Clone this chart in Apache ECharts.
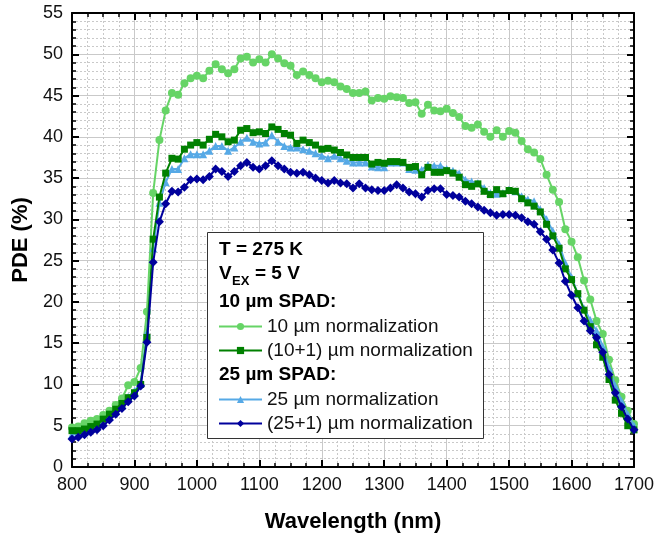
<!DOCTYPE html>
<html>
<head>
<meta charset="utf-8">
<script src="https://cdn.jsdelivr.net/npm/echarts@6/dist/echarts.min.js"></script>
<style>
html,body{margin:0;padding:0;background:#fff;}
#chart{width:669px;height:538px;}
</style>
</head>
<body>
<div id="chart"></div>
<script>
// Wavelength categories (nm), 800..1700 every 10 nm
var wavelengths = [800,810,820,830,840,850,860,870,880,890,900,910,920,930,940,950,960,970,980,990,
1000,1010,1020,1030,1040,1050,1060,1070,1080,1090,1100,1110,1120,1130,1140,1150,1160,1170,1180,1190,
1200,1210,1220,1230,1240,1250,1260,1270,1280,1290,1300,1310,1320,1330,1340,1350,1360,1370,1380,1390,
1400,1410,1420,1430,1440,1450,1460,1470,1480,1490,1500,1510,1520,1530,1540,1550,1560,1570,1580,1590,
1600,1610,1620,1630,1640,1650,1660,1670,1680,1690,1700];

// 10 um SPAD, 10 um normalization
var pde10 = [4.8,4.9,5.3,5.6,5.8,6.3,6.8,7.5,8.3,9.9,10.3,12.0,18.8,33.2,39.6,43.2,45.3,45.1,46.5,47.1,
47.4,47.1,48.0,48.8,48.2,47.7,48.2,49.5,49.7,49.0,49.4,49.0,50.0,49.5,48.9,48.6,47.5,47.9,47.5,47.1,
46.6,46.8,46.6,46.1,45.8,45.3,45.3,45.5,44.4,44.7,44.6,44.9,44.8,44.7,44.1,44.2,42.8,43.9,43.2,43.1,
43.4,42.9,42.4,41.3,41.1,41.5,40.6,40.0,40.8,40.0,40.7,40.5,39.5,38.5,38.1,37.3,35.4,33.6,32.1,28.8,
27.3,25.4,22.6,20.3,17.7,16.1,13.0,10.5,8.5,6.8,5.2];

// 10 um SPAD, (10+1) um normalization
var pde10p1 = [4.4,4.4,4.6,4.9,5.2,5.8,6.4,7.0,7.7,8.4,9.0,10.0,15.7,27.6,32.7,35.6,37.4,37.3,38.5,39.0,
39.3,39.0,39.7,40.3,40.0,39.4,39.6,40.8,41.0,40.5,40.6,40.4,41.2,40.9,40.4,40.2,39.2,39.6,39.3,39.0,
38.5,38.6,38.4,38.1,37.8,37.5,37.5,37.5,36.7,36.9,36.8,37.0,37.0,36.9,36.3,36.4,35.4,36.3,35.7,35.7,
35.9,35.6,35.1,34.2,34.0,34.3,33.4,33.0,33.6,33.1,33.5,33.4,32.5,32.0,31.6,30.9,29.4,28.0,26.5,24.0,
22.7,21.0,19.0,17.0,14.8,13.3,10.6,8.1,6.5,5.0,4.5];

// 25 um SPAD, 25 um normalization
var pde25 = [3.9,4.1,4.3,4.6,5.0,5.5,6.1,6.9,7.6,8.5,9.2,10.3,16.3,26.5,32.0,34.5,36.1,36.1,37.4,37.9,
37.9,37.9,38.3,38.9,38.9,38.3,38.7,39.4,39.9,39.4,39.2,39.3,40.2,39.4,38.9,38.7,38.7,38.5,38.3,38.0,
37.7,37.4,37.7,37.4,37.1,36.9,36.9,36.9,36.4,36.3,36.3,36.9,36.9,36.9,36.1,36.0,36.0,36.6,36.5,36.5,
36.1,35.9,35.6,34.8,34.6,34.4,33.8,33.2,33.1,33.2,33.6,33.4,32.8,32.4,32.2,31.2,30.0,28.6,27.0,24.7,
23.0,21.0,19.2,17.8,16.5,14.6,12.0,9.8,8.0,6.4,5.0];

// 25 um SPAD, (25+1) um normalization
var pde25p1 = [3.4,3.6,3.9,4.2,4.5,5.0,5.7,6.4,7.1,7.9,8.6,9.8,15.1,24.8,29.7,31.9,33.4,33.3,33.9,34.8,
34.9,34.8,35.2,36.1,35.8,35.2,35.8,36.5,36.9,36.3,36.1,36.5,37.1,36.5,36.1,35.7,35.6,35.7,35.4,35.0,
34.7,34.4,34.7,34.4,34.3,33.8,34.3,33.8,33.6,33.5,33.5,33.8,34.2,33.8,33.3,33.1,32.7,33.5,33.7,33.7,
33.0,32.9,32.7,32.2,31.9,31.5,31.1,30.8,30.5,30.6,30.6,30.5,30.2,29.7,29.4,28.5,27.6,26.3,24.7,22.5,
20.8,19.3,17.7,16.5,15.7,13.9,11.2,9.0,7.3,5.8,4.5];

var seriesNames = ['10 \u00b5m normalization','(10+1) \u00b5m normalization','25 \u00b5m normalization','(25+1) \u00b5m normalization'];
var xTicks = {min:800, max:1700, step:100};
var yTicks = {min:0, max:55, step:5};

function pairs(vals){ return wavelengths.map(function(w,i){ return [w, vals[i]]; }); }

var FONT = '"Liberation Sans", Arial, Helvetica, sans-serif';
var gridColor = '#c9c9c9';

function mkX(pos, main){
  return {
    type:'value', position:pos, min:xTicks.min, max:xTicks.max, interval:xTicks.step,
    axisLine:{show:true, onZero:false, lineStyle:{color:'#000', width:2}},
    axisTick:{show:true, inside:true, length:7, lineStyle:{color:'#000', width:2}},
    minorTick:{show:true, splitNumber:4, length:4, lineStyle:{color:'#000', width:1.5}},
    axisLabel:{show:main, color:'#111', fontSize:18, fontFamily:FONT, margin:9,
               formatter:function(v){ return String(v); }},
    splitLine:{show:main, lineStyle:{color:gridColor, width:1}},
    minorSplitLine:{show:main, lineStyle:{color:gridColor, width:1, type:[2,2]}},
    name: main ? 'Wavelength (nm)' : '', nameLocation:'middle', nameGap:44,
    nameTextStyle:{fontSize:22, fontWeight:'bold', fontFamily:FONT, color:'#000'}
  };
}
function mkY(pos, main){
  return {
    type:'value', position:pos, min:yTicks.min, max:yTicks.max, interval:yTicks.step,
    axisLine:{show:true, onZero:false, lineStyle:{color:'#000', width:2}},
    axisTick:{show:true, inside:true, length:7, lineStyle:{color:'#000', width:2}},
    minorTick:{show:true, splitNumber:5, length:4, lineStyle:{color:'#000', width:1.5}},
    axisLabel:{show:main, color:'#111', fontSize:18, fontFamily:FONT, margin:9},
    splitLine:{show:main, lineStyle:{color:gridColor, width:1}},
    minorSplitLine:{show:main, lineStyle:{color:gridColor, width:1, type:[2,2]}},
    name: main ? 'PDE (%)' : '', nameLocation:'middle', nameGap:32, nameRotate:90,
    nameTextStyle:{fontSize:22, fontWeight:'bold', fontFamily:FONT, color:'#000'}
  };
}

var colors = ['#66d466','#008000','#56a9e6','#00009c'];
function mkSeries(name, vals, color, symbol, size, z){
  return {
    name:name, type:'line', data:pairs(vals), xAxisIndex:0, yAxisIndex:0,
    symbol:symbol, symbolSize:size, showSymbol:true, z:z,
    lineStyle:{color:color, width:2}, itemStyle:{color:color},
    emphasis:{disabled:true}, animation:false
  };
}

var legendText = {fontSize:19, fontFamily:FONT, color:'#111'};
var option = {
  animation:false,
  backgroundColor:'#fff',
  grid:{left:72, right:35, top:13, bottom:70, containLabel:false},
  xAxis:[mkX('bottom', true), mkX('top', false)],
  yAxis:[mkY('left', true), mkY('right', false)],
  legend:[
    {data:[seriesNames[0], seriesNames[1]], orient:'vertical', left:218, top:317, itemWidth:43, itemHeight:9,
     itemGap:5, padding:0, selectedMode:false, textStyle:legendText, z:20},
    {data:[seriesNames[2], seriesNames[3]], orient:'vertical', left:218, top:390, itemWidth:43, itemHeight:9,
     itemGap:5, padding:0, selectedMode:false, textStyle:legendText, z:20}
  ],
  graphic:[
    {type:'rect', left:207, top:232, z:10, shape:{width:276, height:206},
     style:{fill:'#fff', stroke:'#333', lineWidth:1}},
    {type:'text', left:219, top:240, z:30, style:{text:'T = 275 K', font:'bold 19px '+FONT, fill:'#000'}},
    {type:'text', left:219, top:264, z:30, style:{text:'V', font:'bold 19px '+FONT, fill:'#000'}},
    {type:'text', left:232, top:275, z:30, style:{text:'EX', font:'bold 13px '+FONT, fill:'#000'}},
    {type:'text', left:255, top:264, z:30, style:{text:'= 5 V', font:'bold 19px '+FONT, fill:'#000'}},
    {type:'text', left:219, top:292, z:30, style:{text:'10 \u00b5m SPAD:', font:'bold 19px '+FONT, fill:'#000'}},
    {type:'text', left:219, top:365, z:30, style:{text:'25 \u00b5m SPAD:', font:'bold 19px '+FONT, fill:'#000'}}
  ],
  series:[
    mkSeries(seriesNames[0], pde10, colors[0], 'circle', 8, 2),
    mkSeries(seriesNames[2], pde25, colors[2], 'triangle', 8, 3),
    mkSeries(seriesNames[1], pde10p1, colors[1], 'rect', 7, 4),
    mkSeries(seriesNames[3], pde25p1, colors[3], 'diamond', 9, 5)
  ]
};
var chart = echarts.init(document.getElementById('chart'), null, {renderer:'canvas'});
chart.setOption(option);
</script>
</body>
</html>
